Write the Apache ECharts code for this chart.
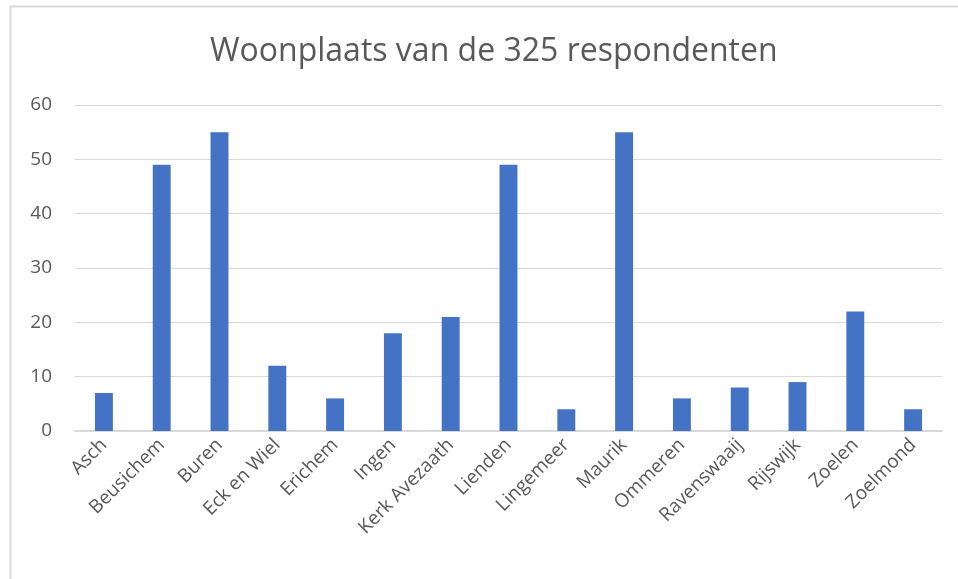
<!DOCTYPE html>
<html>
<head>
<meta charset="utf-8">
<script src="https://cdn.jsdelivr.net/npm/echarts@6/dist/echarts.min.js"></script>
<style>
  html, body { margin: 0; padding: 0; background: #fff; }
  #chart { width: 958px; height: 579px; }
</style>
</head>
<body>
<div id="chart"></div>
<script>
// woonplaatsen en aantallen respondenten
var plaatsen = ['Asch', 'Beusichem', 'Buren', 'Eck en Wiel', 'Erichem', 'Ingen', 'Kerk Avezaath',
  'Lienden', 'Lingemeer', 'Maurik', 'Ommeren', 'Ravenswaaij', 'Rijswijk', 'Zoelen', 'Zoelmond'];
var aantallen = [7, 49, 55, 12, 6, 18, 21, 49, 4, 55, 6, 8, 9, 22, 4];
var yTicks = [0, 10, 20, 30, 40, 50, 60];

var myChart = echarts.init(document.getElementById('chart'));

var option = {
  backgroundColor: '#fff',
  animation: false,
  textStyle: { fontFamily: 'Open Sans' },
  title: {
    text: 'Woonplaats van de 325 respondenten',
    left: 205,
    top: 31,
    textStyle: { color: '#595959', fontSize: 32, fontWeight: 'normal', fontFamily: 'Open Sans' }
  },
  graphic: [{
    type: 'rect',
    shape: { x: 10.5, y: 6.5, width: 960, height: 600 },
    style: { fill: 'none', stroke: '#d9d9d9', lineWidth: 2 },
    silent: true
  }],
  grid: { left: 75, right: 16, top: 105, bottom: 148 },
  xAxis: {
    type: 'category',
    data: plaatsen,
    axisLine: { lineStyle: { color: '#d9d9d9', width: 2 } },
    axisTick: { show: false },
    axisLabel: { rotate: 45, interval: 0, color: '#595959', fontSize: 19, margin: 11 }
  },
  yAxis: {
    type: 'value',
    min: yTicks[0],
    max: yTicks[yTicks.length - 1],
    interval: 10,
    axisLine: { show: false },
    axisTick: { show: false },
    splitLine: { lineStyle: { color: '#d9d9d9', width: 1 } },
    axisLabel: { color: '#595959', fontSize: 19, margin: 23 }
  },
  series: [{
    type: 'bar',
    data: aantallen,
    barWidth: '31%',
    itemStyle: { color: '#4472c4' }
  }]
};

myChart.setOption(option, true);
</script>
</body>
</html>
